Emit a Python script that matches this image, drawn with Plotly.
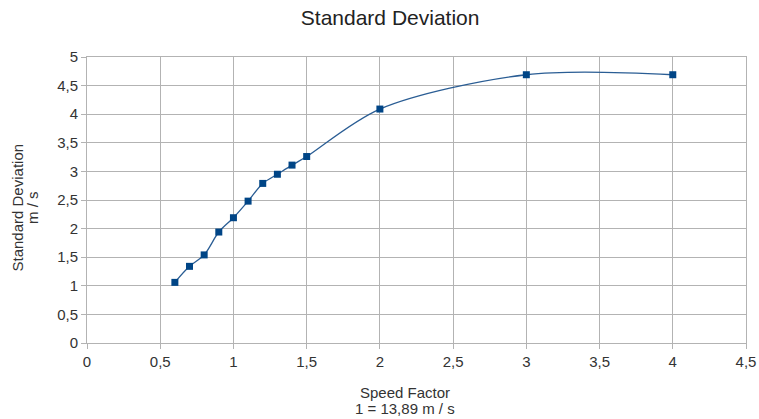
import plotly.graph_objects as go

speed_factor = [0.6, 0.7, 0.8, 0.9, 1.0, 1.1, 1.2, 1.3, 1.4, 1.5, 2.0, 3.0, 4.0]
std_dev = [1.06, 1.34, 1.54, 1.94, 2.19, 2.48, 2.79, 2.95, 3.11, 3.26, 4.09, 4.69, 4.69]

x_ticks = [0, 0.5, 1, 1.5, 2, 2.5, 3, 3.5, 4, 4.5]
x_tick_labels = ["0", "0,5", "1", "1,5", "2", "2,5", "3", "3,5", "4", "4,5"]
y_ticks = [0, 0.5, 1, 1.5, 2, 2.5, 3, 3.5, 4, 4.5, 5]
y_tick_labels = ["0", "0,5", "1", "1,5", "2", "2,5", "3", "3,5", "4", "4,5", "5"]

title_text = "Standard Deviation"
x_title_lines = ["Speed Factor", "1 = 13,89 m / s"]
y_title_lines = ["Standard Deviation", "m / s"]

color = "#004586"
grid = "#b3b3b3"
txt = "#333333"

fig = go.Figure()
fig.add_trace(go.Scatter(
    x=speed_factor, y=std_dev, mode="lines",
    line=dict(color="#2a5d94", width=1.3, shape="spline", smoothing=0.9),
    hoverinfo="skip", showlegend=False, cliponaxis=False))
fig.add_trace(go.Scatter(
    x=speed_factor, y=std_dev, mode="markers",
    marker=dict(symbol="square", size=7, color=color),
    showlegend=False))

axis_common = dict(showgrid=True, gridcolor=grid, gridwidth=1,
                   showline=True, linecolor=grid, linewidth=1, mirror=True,
                   ticks="outside", ticklen=5, tickcolor=grid, automargin=False,
                   tickfont=dict(size=15, color=txt), zeroline=False)

fig.update_layout(
    width=759, height=419,
    margin=dict(l=87, r=13, t=57, b=76),
    paper_bgcolor="white", plot_bgcolor="white",
    font=dict(family="Liberation Sans, Arial, sans-serif", color=txt),
    title=dict(text=title_text, x=0.514, xanchor="center", y=0.957, yanchor="middle",
               font=dict(size=21, color="#222222")),
    xaxis=dict(range=[0, 4.5], tickvals=x_ticks, ticktext=x_tick_labels, **axis_common),
    yaxis=dict(range=[0, 5], tickvals=y_ticks, ticktext=y_tick_labels, **axis_common),
)

# axis titles as separate lines (tight line spacing as in the reference)
fig.add_annotation(text=x_title_lines[0], xref="paper", yref="paper", x=0.4825, y=-0.1738,
                   showarrow=False, xanchor="center", yanchor="middle", font=dict(size=15, color=txt))
fig.add_annotation(text=x_title_lines[1], xref="paper", yref="paper", x=0.4833, y=-0.2273,
                   showarrow=False, xanchor="center", yanchor="middle", font=dict(size=15, color=txt))
fig.add_annotation(text=y_title_lines[0], xref="paper", yref="paper", x=-0.1062, y=0.4738,
                   showarrow=False, xanchor="center", yanchor="middle", textangle=-90,
                   font=dict(size=15, color=txt))
fig.add_annotation(text=y_title_lines[1], xref="paper", yref="paper", x=-0.0827, y=0.4738,
                   showarrow=False, xanchor="center", yanchor="middle", textangle=-90,
                   font=dict(size=15, color=txt))

fig.write_html("out.html", config={"displayModeBar": False},
               post_script="document.body.style.margin='0';document.body.style.overflow='hidden';")
